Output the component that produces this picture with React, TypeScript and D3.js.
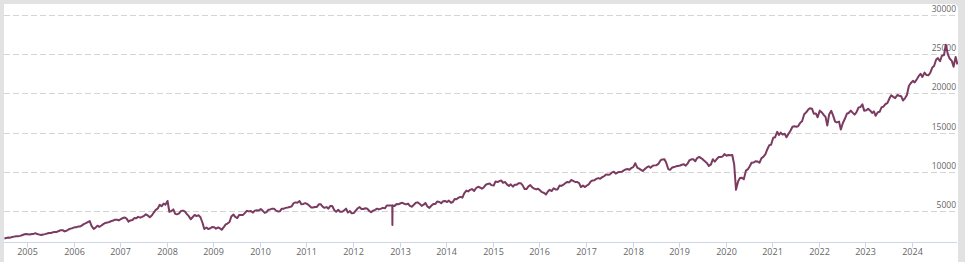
import React from 'react';
import * as d3 from 'd3';

const W = 965;
const H = 262;

// Y axis tick values and X axis year labels
const yTickValues = [5000, 10000, 15000, 20000, 25000, 30000];
const yearLabels = ['2005','2006','2007','2008','2009','2010','2011','2012','2013','2014','2015','2016','2017','2018','2019','2020','2021','2022','2023','2024'];

// Semi-monthly values (around the 8th and the 22nd of each month)
const v2004 = [1500, 1560, 1620, 1600, 1680, 1730, 1790, 1770, 1830, 1900, 2000, 2060]; // from July
const v2005 = [2030, 2000, 2070, 2080, 2170, 2060, 1990, 1930, 2000, 2050, 2120, 2190, 2200, 2280, 2320, 2330, 2450, 2560, 2560, 2400, 2480, 2640, 2750, 2810];
const v2006 = [2920, 2920, 3030, 3020, 3170, 3320, 3450, 3580, 3720, 3100, 2700, 2880, 3130, 2980, 3150, 3330, 3480, 3520, 3600, 3700, 3780, 3900, 3880, 3800];
const v2007 = [3980, 4100, 4180, 4000, 3650, 3800, 3850, 4100, 4080, 4250, 4150, 4250, 4380, 4580, 4400, 4200, 4450, 4800, 5150, 5300, 5800, 5600, 5950, 5800];
const v2008 = [6280, 4900, 5000, 5200, 4630, 4570, 4700, 5000, 5050, 4950, 4600, 4350, 3950, 4200, 4500, 4350, 4450, 4200, 3500, 2700, 2900, 2690, 2800, 2950];
const v2009 = [2920, 2750, 2900, 2780, 2600, 2900, 3300, 3400, 3600, 4300, 4550, 4250, 4100, 4500, 4500, 4500, 4800, 5020, 4950, 5000, 4800, 5050, 5100, 5050];
const v2010 = [5250, 5050, 4760, 4850, 5150, 5200, 5300, 5300, 5050, 4950, 4980, 5300, 5300, 5400, 5450, 5500, 5600, 6000, 6100, 6050, 6270, 5850, 5900, 6000];
const v2011 = [5900, 5700, 5450, 5450, 5500, 5500, 5850, 5870, 5550, 5400, 5500, 5300, 5650, 5630, 5100, 4900, 5150, 4900, 4900, 5050, 5300, 4800, 5000, 4700];
const v2012 = [4750, 5050, 5350, 5500, 5250, 5250, 5350, 5300, 5000, 4850, 5050, 5150, 5300, 5200, 5300, 5400, 5350, 5700, 5700, 5690, 5700, 5630, 5900, 5850];
const v2013 = [5990, 6050, 5900, 5850, 5950, 5650, 5550, 5800, 6050, 6100, 5900, 5650, 5800, 6030, 5550, 5400, 5700, 5900, 5900, 6200, 6150, 6000, 6250, 6280];
const v2014 = [6150, 6320, 6050, 6150, 6520, 6500, 6700, 6800, 6700, 7250, 7600, 7500, 7700, 7800, 7550, 7900, 8100, 8000, 7850, 8000, 8350, 8450, 8500, 8300];
const v2015 = [8250, 8750, 8700, 8800, 8900, 8600, 8700, 8400, 8200, 8400, 8100, 8350, 8350, 8550, 8550, 8300, 7800, 7800, 8150, 8300, 8000, 7850, 7750, 7850];
const v2016 = [7600, 7400, 7300, 7100, 7500, 7700, 7550, 7900, 7750, 7750, 8250, 8200, 8350, 8550, 8700, 8650, 8950, 8850, 8700, 8700, 8550, 8050, 8250, 8050];
const v2017 = [8250, 8400, 8770, 8900, 8930, 9100, 9200, 9120, 9320, 9420, 9670, 9630, 9670, 9900, 10000, 9770, 9930, 9960, 9990, 10150, 10300, 10350, 10270, 10480];
const v2018 = [10630, 11100, 10500, 10400, 10250, 10100, 10350, 10560, 10700, 10520, 10770, 10820, 10850, 11000, 11450, 11580, 11600, 11150, 10350, 10250, 10550, 10600, 10700, 10750];
const v2019 = [10800, 10900, 10950, 10790, 11040, 11450, 11600, 11600, 11350, 11750, 11900, 11750, 11550, 11350, 11100, 10750, 10950, 11600, 11300, 11600, 11900, 11900, 11950, 12250];
const v2020 = [12050, 12150, 12100, 12150, 10900, 7700, 8800, 9200, 9250, 9050, 10150, 10300, 10700, 11150, 11200, 11350, 11300, 11150, 11750, 11900, 12250, 12850, 13400, 13450];
const v2021 = [14350, 14400, 15100, 14700, 15000, 14750, 14850, 14400, 14850, 15200, 15750, 15800, 15750, 15800, 16250, 16450, 17350, 17550, 17900, 18100, 18050, 17400, 17450, 16950];
const v2022 = [17800, 17600, 17250, 17000, 15900, 17300, 17780, 17200, 16400, 16300, 16400, 15400, 16220, 16700, 17400, 17500, 17800, 17550, 17300, 17580, 18200, 18250, 18600, 17800];
const v2023 = [17850, 18050, 17800, 17500, 17700, 17150, 17600, 17650, 18250, 18300, 18650, 18750, 19350, 19750, 19550, 19400, 19800, 19700, 19650, 19100, 19400, 19800, 20970, 21300];
const v2024 = [21600, 21400, 21800, 22200, 22500, 22100, 22650, 22350, 22300, 22600, 23300, 23500, 24300, 24500, 24100, 24800, 24900, 26200, 25000, 24450, 24150, 23400, 24650, 23700];

const yearStarts = [2004, 2005, 2006, 2007, 2008, 2009, 2010, 2011, 2012, 2013, 2014, 2015, 2016, 2017, 2018, 2019, 2020, 2021, 2022, 2023, 2024];
const yearValues = [v2004, v2005, v2006, v2007, v2008, v2009, v2010, v2011, v2012, v2013, v2014, v2015, v2016, v2017, v2018, v2019, v2020, v2021, v2022, v2023, v2024];
const firstMonth = [6, 0, 0, 0, 0, 0, 0, 0, 0, 0, 0, 0, 0, 0, 0, 0, 0, 0, 0, 0, 0];

// the one-day downward spike seen late 2012
const spikeDates = ['2012-11-04', '2012-11-05', '2012-11-06'];
const spikeValues = [5690, 3200, 5700];

const LINE = '#7b3a60';

type Pt = { date: Date; value: number };

function buildPoints(): Pt[] {
  const pts: Pt[] = [];
  yearValues.forEach((arr, k) => {
    arr.forEach((v, i) => {
      const m = firstMonth[k] + Math.floor(i / 2);
      const day = i % 2 === 0 ? 8 : 22;
      pts.push({ date: new Date(yearStarts[k], m, day), value: v });
    });
  });
  spikeDates.forEach((d, i) => {
    const [y, m, dd] = d.split('-').map(Number);
    pts.push({ date: new Date(y, m - 1, dd), value: spikeValues[i] });
  });
  pts.sort((a, b) => a.date.getTime() - b.date.getTime());
  return pts;
}

export default function App() {
  const pts = buildPoints();
  const left = 4;
  const right = 958;
  const axisY = 242.5;

  const x = d3
    .scaleTime()
    .domain([new Date(2005, 0, 1), new Date(2024, 0, 1)])
    .range([27, 912]);
  const y = d3.scaleLinear().domain([0, 30000]).range([250.2, 15]);

  const line = d3
    .line<Pt>()
    .x((d) => x(d.date))
    .y((d) => y(d.value));

  const panel = `M${left},4 H${right - 5} Q${right},4 ${right},9 V${H} H${left} Z`;

  return (
    <div style={{ position: 'absolute', left: 0, top: 0 }}>
      <svg width={W} height={H} style={{ display: 'block', fontFamily: '"Open Sans", "Noto Sans", sans-serif' }}>
        <defs>
          <clipPath id="plot">
            <rect x={left} y={4} width={right - left} height={axisY - 4} />
          </clipPath>
        </defs>
        <rect x={0} y={0} width={W} height={H} fill="#e2e2e2" />
        <path d={panel} fill="#ffffff" />
        {yTickValues.map((t) => (
          <g key={t}>
            <line
              x1={left}
              x2={957}
              y1={Math.round(y(t)) + 0.5}
              y2={Math.round(y(t)) + 0.5}
              stroke="#d4d4d4"
              strokeWidth={1}
              strokeDasharray="6,3"
            />
            <text
              x={956}
              y={y(t) - 3}
              textAnchor="end"
              fontSize={8.5}
              fill="#666666"
            >
              {t}
            </text>
          </g>
        ))}
        <line x1={left} x2={957} y1={axisY} y2={axisY} stroke="#ccd6eb" strokeWidth={1} />
        {yearLabels.map((lab) => {
          const xx = Math.round(x(new Date(+lab, 0, 1))) + 0.5;
          return (
            <g key={lab}>
              <line x1={xx} x2={xx} y1={axisY} y2={axisY + 5} stroke="#ccd6eb" strokeWidth={1} />
              <text x={xx} y={254.5} textAnchor="middle" fontSize={9} fill="#666666">
                {lab}
              </text>
            </g>
          );
        })}
        <g clipPath="url(#plot)">
          <path d={line(pts) || ''} fill="none" stroke={LINE} strokeWidth={2} strokeLinejoin="round" />
        </g>
      </svg>
    </div>
  );
}
